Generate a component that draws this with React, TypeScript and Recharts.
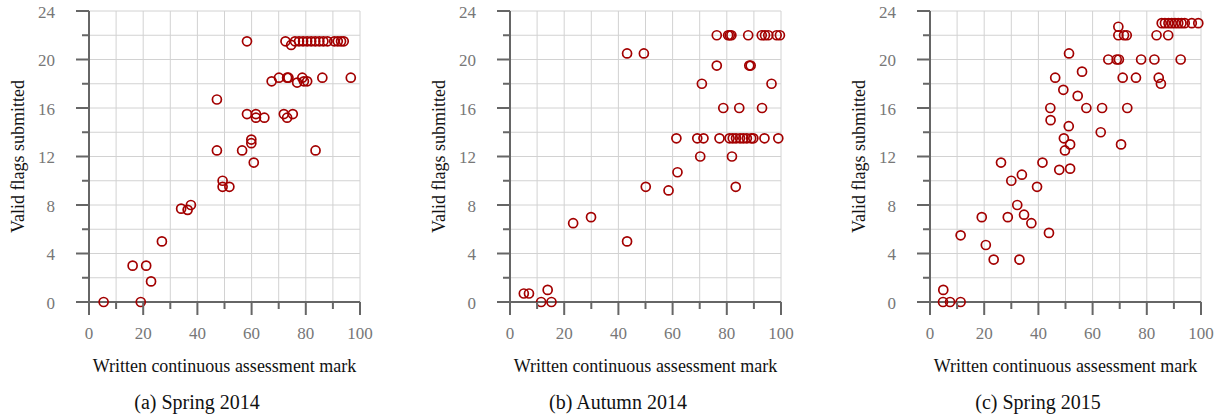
import { ScatterChart, Scatter, XAxis, YAxis, CartesianGrid } from "recharts";

// Spring 2014: written CA mark vs. valid flags submitted
const spring2014Marks = [
  5.4, 16.1, 19.1, 21.1, 22.9, 26.9, 34, 36.4, 37.6, 47.2, 47.2, 49.3, 49.3, 51.8,
  56.5, 58.3, 58.3, 59.9, 59.9, 60.8, 61.6, 61.6, 64.7, 67.4, 70.1, 71.9, 73.1, 73.1,
  73.6, 75.2, 72.5, 74.6, 76, 76.8, 77.5, 78.7, 79, 79.3, 80.5, 80.5, 82, 83.5, 83.6,
  85, 86.1, 86.5, 88, 90.5, 91.8, 93, 94, 96.6,
];
const spring2014Flags = [
  0, 3, 0, 3, 1.7, 5, 7.7, 7.6, 8, 16.7, 12.5, 10, 9.5, 9.5,
  12.5, 21.5, 15.5, 13.4, 13.1, 11.5, 15.5, 15.2, 15.2, 18.2, 18.5, 15.5, 15.2, 18.5,
  18.5, 15.5, 21.5, 21.2, 21.5, 18.1, 21.5, 18.5, 21.5, 18.2, 18.2, 21.5, 21.5, 21.5, 12.5,
  21.5, 18.5, 21.5, 21.5, 21.5, 21.5, 21.5, 21.5, 18.5,
];

// Autumn 2014
const autumn2014Marks = [
  5.1, 7, 11.5, 13.9, 15.3, 23.3, 29.9, 43.2, 49.4, 43.2, 50.1, 58.5, 61.8, 61.4,
  69.1, 71.4, 70.2, 70.8, 76.3, 76.3, 77.3, 78.7, 80.5, 81.1, 81.7, 81, 81.9, 82.2,
  83.3, 83.4, 84.6, 84.9, 86.1, 87.4, 87.9, 88.3, 88.8, 89, 89.8, 92.9, 93, 93.9,
  94.1, 95.3, 96.5, 98.4, 99, 99.6,
];
const autumn2014Flags = [
  0.7, 0.7, 0, 1, 0, 6.5, 7, 20.5, 20.5, 5, 9.5, 9.2, 10.7, 13.5,
  13.5, 13.5, 12, 18, 22, 19.5, 13.5, 16, 22, 22, 22, 13.5, 12, 13.5,
  9.5, 13.5, 16, 13.5, 13.5, 13.5, 22, 19.5, 19.5, 13.5, 13.5, 22, 16, 13.5,
  22, 22, 18, 22, 13.5, 22,
];

// Spring 2015
const spring2015Marks = [
  4.9, 4.8, 7.4, 11.3, 11.3, 19.1, 20.6, 23.5, 26.2, 28.7, 30, 32.2, 33, 33.9,
  34.7, 37.4, 39.5, 41.5, 43.9, 44.4, 44.5, 46.2, 47.7, 49.2, 49.4, 49.8, 51.2, 51.3,
  51.7, 51.7, 54.5, 56.1, 57.7, 63, 63.5, 65.8, 68.9, 69.7, 69.5, 69.5, 70.5, 71.1,
  71.6, 72.6, 72.8, 76, 77.9, 82.8, 83.6, 84.4, 85.2, 85.5, 86.7, 87.9, 88, 89.2,
  90.4, 91.6, 92.5, 92.8, 94, 96.6, 99,
];
const spring2015Flags = [
  1, 0, 0, 0, 5.5, 7, 4.7, 3.5, 11.5, 7, 10, 8, 3.5, 10.5,
  7.2, 6.5, 9.5, 11.5, 5.7, 16, 15, 18.5, 10.9, 17.5, 13.5, 12.5, 14.5, 20.5,
  13, 11, 17, 19, 16, 14, 16, 20, 20, 20, 22.7, 22, 13, 18.5,
  22, 22, 16, 18.5, 20, 20, 22, 18.5, 18, 23, 23, 22, 23, 23,
  23, 23, 20, 23, 23, 23, 23,
];

const xTicks = [0, 10, 20, 30, 40, 50, 60, 70, 80, 90, 100];
const yTicks = [0, 2, 4, 6, 8, 10, 12, 14, 16, 18, 20, 22, 24];
const xTitle = "Written continuous assessment mark";
const yTitle = "Valid flags submitted";

const SERIF = "'Liberation Serif', 'Times New Roman', serif";
const RED = "#a30000";
const AXIS = "#666";
const TICK_TEXT = "#777";

function XTick(props: any) {
  const { x, y, payload } = props;
  const major = payload.value % 20 === 0;
  return (
    <g>
      <line x1={x} x2={x} y1={y} y2={y + (major ? 13 : 7)} stroke={AXIS} strokeWidth={2} />
      {major && (
        <text
          x={x}
          y={y + 37}
          textAnchor="middle"
          fill={TICK_TEXT}
          style={{ fontFamily: SERIF, fontSize: 17 }}
        >
          {payload.value}
        </text>
      )}
    </g>
  );
}

function YTick(props: any) {
  const { x, y, payload } = props;
  const major = payload.value % 4 === 0;
  return (
    <g>
      <line x1={x - (major ? 13 : 7)} x2={x} y1={y} y2={y} stroke={AXIS} strokeWidth={2} />
      {major && (
        <text
          x={x - 34}
          y={y + 6.5}
          textAnchor="end"
          fill={TICK_TEXT}
          style={{ fontFamily: SERIF, fontSize: 17 }}
        >
          {payload.value}
        </text>
      )}
    </g>
  );
}

const Ring = (props: any) => (
  <circle cx={props.cx} cy={props.cy} r={4.5} fill="none" stroke={RED} strokeWidth={1.7} />
);

function Panel({ left, marks, flags, caption }: { left: number; marks: number[]; flags: number[]; caption: string }) {
  const data = marks.map((x, i) => ({ x, y: flags[i] }));
  return (
    <div style={{ position: "absolute", left, top: 0, width: 380, height: 417, fontFamily: SERIF }}>
      <ScatterChart
        width={380}
        height={390}
        margin={{ top: 11, right: 20, bottom: 13, left: 0 }}
        style={{ fontFamily: SERIF }}
      >
        <CartesianGrid stroke="#d2d2d2" strokeWidth={1} />
        <XAxis
          type="number"
          dataKey="x"
          domain={[0, 100]}
          ticks={xTicks}
          interval={0}
          tickSize={0}
          tickMargin={0}
          tickLine={false}
          tick={(p: any) => <XTick {...p} />}
          axisLine={{ stroke: AXIS, strokeWidth: 2 }}
          height={75}
          label={{
            value: xTitle,
            position: "insideBottom",
            offset: 5,
            fill: "#111",
            fontSize: 18,
            fontFamily: SERIF,
            style: { fill: "#111", fontSize: 18, fontFamily: SERIF },
          }}
        />
        <YAxis
          type="number"
          dataKey="y"
          domain={[0, 24]}
          ticks={yTicks}
          interval={0}
          tickSize={0}
          tickMargin={0}
          tickLine={false}
          tick={(p: any) => <YTick {...p} />}
          axisLine={{ stroke: AXIS, strokeWidth: 2 }}
          width={89}
          label={{
            value: yTitle,
            angle: -90,
            position: "insideLeft",
            offset: 18,
            fill: "#111",
            fontSize: 18,
            fontFamily: SERIF,
            style: { fill: "#111", fontSize: 18, fontFamily: SERIF, textAnchor: "middle" },
          }}
        />
        <Scatter data={data} shape={Ring} isAnimationActive={false} />
      </ScatterChart>
      <svg width={380} height={417} style={{ position: "absolute", left: 0, top: 0, pointerEvents: "none" }}>
        <text x={197} y={409} textAnchor="middle" fill="#111" style={{ fontFamily: SERIF, fontSize: 20 }}>
          {caption}
        </text>
      </svg>
    </div>
  );
}

export default function App() {
  return (
    <div
      style={{
        position: "absolute",
        left: 0,
        top: 0,
        width: 1222,
        height: 417,
        background: "#fff",
        overflow: "hidden",
      }}
    >
      <Panel left={0} marks={spring2014Marks} flags={spring2014Flags} caption="(a) Spring 2014" />
      <Panel left={420.5} marks={autumn2014Marks} flags={autumn2014Flags} caption="(b) Autumn 2014" />
      <Panel left={841} marks={spring2015Marks} flags={spring2015Flags} caption="(c) Spring 2015" />
    </div>
  );
}
